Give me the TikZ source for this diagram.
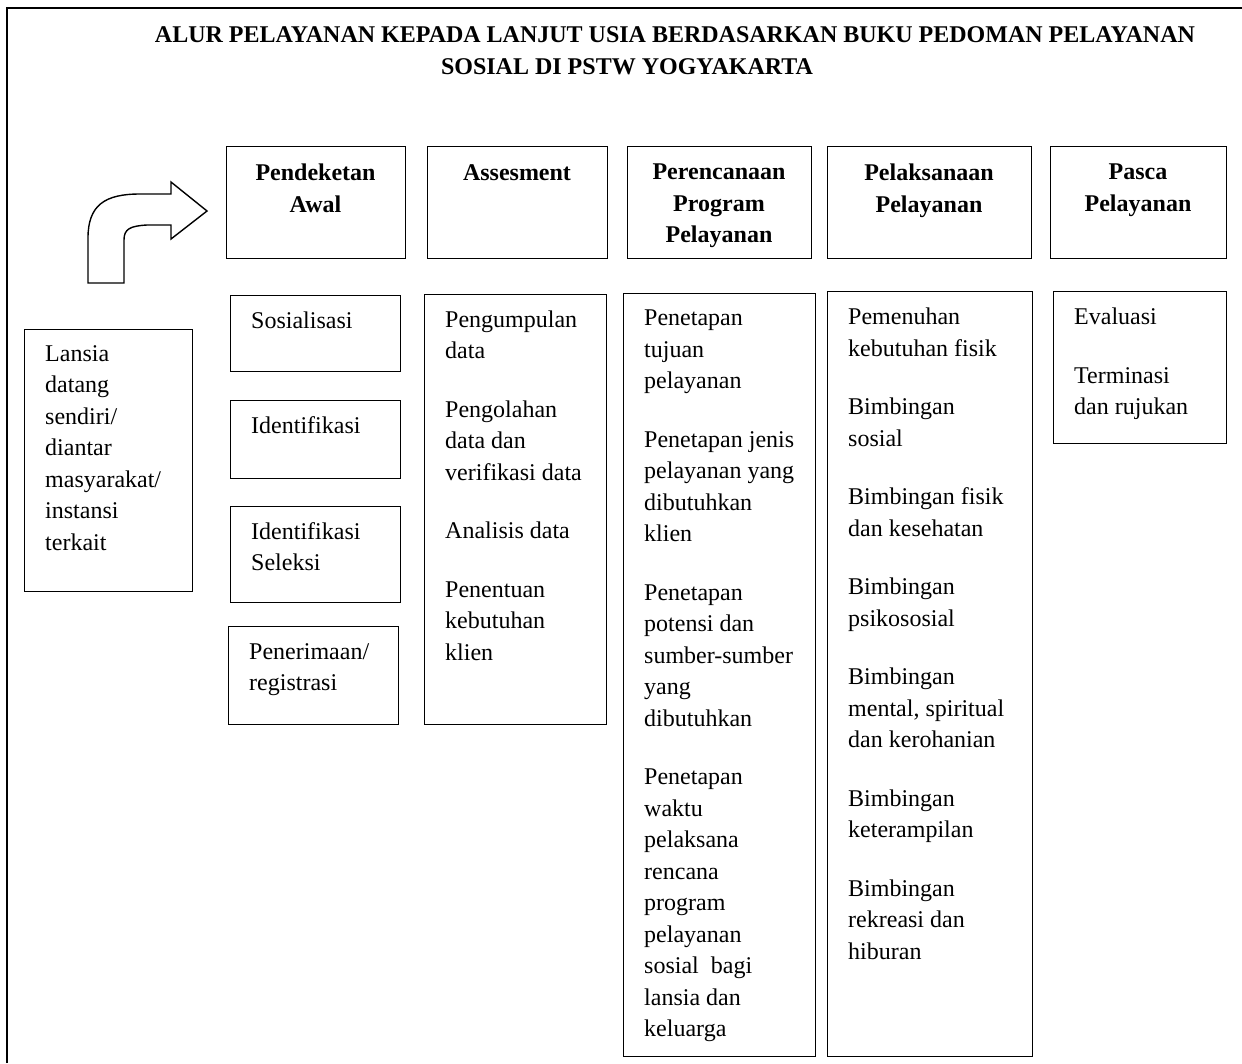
\documentclass[tikz,border=0pt]{standalone}
\usepackage{fontspec}
\setmainfont{Liberation Serif}
\begin{document}
\begin{tikzpicture}[x=1pt,y=-1pt,
  box/.style={draw, line width=1.4pt, inner sep=0pt, anchor=north west},
  txt/.style={anchor=north west, inner sep=0pt, align=left,
    font=\fontsize{24}{31.5}\selectfont, execute at begin node=\strut},
  hdr/.style={anchor=north, inner sep=0pt, align=center,
    font=\fontsize{24}{31.5}\selectfont\bfseries, execute at begin node=\strut},
  ttl/.style={anchor=base, inner sep=0pt, font=\fontsize{24}{31.5}\selectfont\bfseries},
  frame/.style={line width=1.4pt}]
\useasboundingbox (0,0) rectangle (1242,1063);
% outer frame (cropped)
\draw[frame] (7,1063) -- (7,8) -- (1242,8);
% title
\node[ttl] (title1) at (675,42) {ALUR PELAYANAN KEPADA LANJUT USIA BERDASARKAN BUKU PEDOMAN PELAYANAN};
\node[ttl] (title2) at (627,74) {SOSIAL DI PSTW YOGYAKARTA};
% block arrow
\draw[frame, line join=miter] (88,283) -- (88,238)
  .. controls (88,205) and (105,194) .. (140,194) -- (171,194)
  -- (171,182) -- (207,211) -- (171,239) -- (171,225) -- (147,225)
  .. controls (130,226) and (124,229) .. (124,240) -- (124,283) -- cycle;
% header boxes
\node[box, minimum width=179pt, minimum height=112pt] (h1) at (226,146) {};
\node[box, minimum width=180pt, minimum height=112pt] (h2) at (427,146) {};
\node[box, minimum width=184pt, minimum height=112pt] (h3) at (627,146) {};
\node[box, minimum width=204pt, minimum height=112pt] (h4) at (827,146) {};
\node[box, minimum width=176pt, minimum height=112pt] (h5) at (1050,146) {};
\node[hdr] (h1t) at (315.5,164) {Pendeketan\\Awal};
\node[hdr] (h2t) at (517,158) {Assesment};
\node[hdr] (h3t) at (719,164) {Perencanaan\\Program\\Pelayanan};
\node[hdr] (h4t) at (929,164) {Pelaksanaan\\Pelayanan};
\node[hdr] (h5t) at (1138,164) {Pasca\\Pelayanan};
% left box
\node[box, minimum width=168pt, minimum height=262pt] (lansia) at (24,329) {};
\node[txt] (lansiat) at (45,345) {Lansia\\datang\\sendiri/\\diantar\\masyarakat/\\instansi\\terkait};
% pendekatan awal column
\node[box, minimum width=170pt, minimum height=76pt] (sos) at (230,295) {};
\node[txt] (sost) at (251,306) {Sosialisasi};
\node[box, minimum width=170pt, minimum height=78pt] (ide) at (230,400) {};
\node[txt] (idet) at (251,411) {Identifikasi};
\node[box, minimum width=170pt, minimum height=96pt] (sel) at (230,506) {};
\node[txt] (selt) at (251,522) {Identifikasi\\Seleksi};
\node[box, minimum width=170pt, minimum height=98pt] (reg) at (228,626) {};
\node[txt] (regt) at (249,643) {Penerimaan/\\registrasi};
% assesment column
\node[box, minimum width=182pt, minimum height=430pt] (ass) at (424,294) {};
\node[txt] (asst) at (445,310.5) {Pengumpulan\\data\\[27pt]Pengolahan\\data dan\\verifikasi data\\[27pt]Analisis data\\[27pt]Penentuan\\kebutuhan\\klien};
% perencanaan column
\node[box, minimum width=192pt, minimum height=763pt] (per) at (623,293) {};
\node[txt] (pert) at (644,310) {Penetapan\\tujuan\\pelayanan\\[27pt]Penetapan jenis\\pelayanan yang\\dibutuhkan\\klien\\[27pt]Penetapan\\potensi dan\\sumber-sumber\\yang\\dibutuhkan\\[27pt]Penetapan\\waktu\\pelaksana\\rencana\\program\\pelayanan\\sosial\ \ bagi\\lansia dan\\keluarga};
% pelaksanaan column
\node[box, minimum width=205pt, minimum height=765pt] (pel) at (827,291) {};
\node[txt] (pelt) at (848,308) {Pemenuhan\\kebutuhan fisik\\[27pt]Bimbingan\\sosial\\[27pt]Bimbingan fisik\\dan kesehatan\\[27pt]Bimbingan\\psikososial\\[27pt]Bimbingan\\mental, spiritual\\dan kerohanian\\[27pt]Bimbingan\\keterampilan\\[27pt]Bimbingan\\rekreasi dan\\hiburan};
% pasca column
\node[box, minimum width=173pt, minimum height=152pt] (pas) at (1053,291) {};
\node[txt] (past) at (1074,308) {Evaluasi\\[27pt]Terminasi\\dan rujukan};
\end{tikzpicture}
\end{document}
